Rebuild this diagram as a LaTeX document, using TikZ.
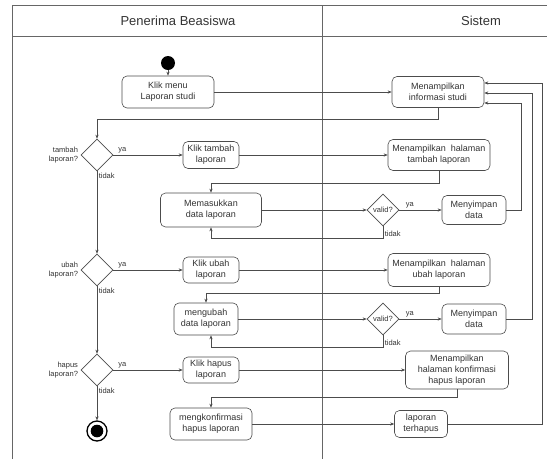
\documentclass[tikz,border=0pt]{standalone}
\usepackage{fontspec}
\setmainfont{Liberation Sans}
\usetikzlibrary{arrows.meta, positioning, calc, shapes.geometric}

\begin{document}
\begin{tikzpicture}[
    x=1pt, y=-1pt,
    font=\fontsize{9}{11}\selectfont,
    >={Stealth[length=4pt,width=3.2pt]},
    every node/.style={inner sep=2pt, text=black!80},
    act/.style={draw=black!70, line width=0.6pt, rounded corners=5pt,
                align=center, fill=white},
    cond/.style={draw=black!70, line width=0.6pt, diamond, aspect=1,
                 minimum size=32pt, inner sep=0pt,
                 font=\fontsize{7.5}{9}\selectfont},
    flow/.style={->, line width=0.5pt, draw=black!70},
    guard/.style={font=\fontsize{7.5}{9}\selectfont, inner sep=1.5pt},
    lane/.style={draw=black!60, line width=0.6pt},
    lanetitle/.style={font=\fontsize{13}{15}\selectfont}
  ]
  \useasboundingbox (0,0) rectangle (547,459);

  % ===== SWIMLANES =====
  \draw[lane] (12,459) -- (12,5) -- (547,5);
  \draw[lane] (12,36) -- (547,36);
  \draw[lane] (322,5) -- (322,459);
  \node[lanetitle] (lanePB)  at (178,21) {Penerima Beasiswa};
  \node[lanetitle] (laneSis) at (481,21) {Sistem};

  % return columns on the right
  \coordinate (ret1) at (521,0);
  \coordinate (ret2) at (532,0);
  \coordinate (ret3) at (542,0);

  % ===== START =====
  \node[circle, fill=black, minimum size=14pt, inner sep=0pt] (start) at (168,63) {};
  \node[act, minimum width=92pt, minimum height=32pt] (klikmenu) at (168,92) {Klik menu\\Laporan studi};
  \node[act, minimum width=92pt, minimum height=31pt] (info) at (438,92) {Menampilkan\\informasi studi};
  \draw[flow] (start) -- (klikmenu);
  \draw[flow] (klikmenu) -- (info);

  % ===== TAMBAH LAPORAN =====
  \node[cond] (dtambah) at (97,155) {};
  \node[guard, left=1pt of dtambah, align=right] (ltambah) {tambah\\laporan?};
  \node[act, minimum width=56pt, minimum height=27pt] (klikt) at (211,155) {Klik tambah\\laporan};
  \node[act, minimum width=102pt, minimum height=31pt] (halt) at (439,155) {Menampilkan~ halaman\\tambah laporan};
  \node[act, minimum width=101pt, minimum height=34pt] (masuk) at (211,210) {Memasukkan\\data laporan};
  \node[cond] (valid1) at (383,210) {valid?};
  \node[act, minimum width=64pt, minimum height=29pt] (simpan1) at (474,210) {Menyimpan\\data};

  \draw[flow] (info.south) -- ++(0,11) -| (dtambah.north);
  \draw[flow] (dtambah.east) -- node[guard, above, pos=0.13] {ya} (klikt.west);
  \draw[flow] (klikt) -- (halt);
  \draw[flow] (halt.south) -- ++(0,12) -| (masuk.north);
  \draw[flow] (masuk) -- (valid1);
  \draw[flow] (valid1.east) -- node[guard, above, pos=0.25] {ya} (simpan1.west);
  \draw[flow] (simpan1.east) -- (simpan1.east -| ret1) |- ([yshift=-11pt]info.east);
  \draw[flow] (valid1.south) -- node[guard, right, pos=0.6] {tidak} ++(0,12) -| (masuk.south);

  % ===== UBAH LAPORAN =====
  \node[cond] (dubah) at (97,270) {};
  \node[guard, left=1pt of dubah, align=right] (lubah) {ubah\\laporan?};
  \node[act, minimum width=56pt, minimum height=26pt] (kliku) at (211,270) {Klik ubah\\laporan};
  \node[act, minimum width=102pt, minimum height=33pt] (halu) at (439,270) {Menampilkan~ halaman\\ubah laporan};
  \node[act, minimum width=64pt, minimum height=32pt] (ubah) at (206,319) {mengubah\\data laporan};
  \node[cond] (valid2) at (383,319) {valid?};
  \node[act, minimum width=64pt, minimum height=30pt] (simpan2) at (474,319) {Menyimpan\\data};

  \draw[flow] (dtambah.south) -- node[guard, below right, pos=0] {tidak} (dubah.north);
  \draw[flow] (dubah.east) -- node[guard, above, pos=0.13] {ya} (kliku.west);
  \draw[flow] (kliku) -- (halu);
  \draw[flow] (halu.south) -- ++(0,6) -| (ubah.north);
  \draw[flow] (ubah) -- (valid2);
  \draw[flow] (valid2.east) -- node[guard, above, pos=0.25] {ya} (simpan2.west);
  \draw[flow] (simpan2.east) -- (simpan2.east -| ret2) |- ([yshift=-1pt]info.east);
  \draw[flow] (valid2.south) -- node[guard, right, pos=0.6] {tidak} ++(0,12) -| ([xshift=5pt]ubah.south);

  % ===== HAPUS LAPORAN =====
  \node[cond] (dhapus) at (97,370) {};
  \node[guard, left=1pt of dhapus, align=right] (lhapus) {hapus\\laporan?};
  \node[act, minimum width=56pt, minimum height=26pt] (klikh) at (211,370) {Klik hapus\\laporan};
  \node[act, minimum width=103pt, minimum height=38pt] (halh) at (457,370) {Menampilkan\\halaman konfirmasi\\hapus laporan};
  \node[act, minimum width=82pt, minimum height=32pt] (konf) at (211,424) {mengkonfirmasi\\hapus laporan};
  \node[act, minimum width=53pt, minimum height=27pt] (hapus) at (421,424) {laporan\\terhapus};

  \draw[flow] (dubah.south) -- node[guard, below right, pos=0] {tidak} (dhapus.north);
  \draw[flow] (dhapus.east) -- node[guard, above, pos=0.13] {ya} (klikh.west);
  \draw[flow] (klikh) -- (halh);
  \draw[flow] (halh.south) -- ++(0,8) -| (konf.north);
  \draw[flow] (konf) -- (hapus);
  \draw[flow] (hapus.east) -- (hapus.east -| ret3) |- ([yshift=9pt]info.east);

  % ===== END =====
  \node[circle, draw=black, line width=1.3pt, minimum size=20pt, inner sep=0pt] (stop) at (97,431) {};
  \fill[black] (stop.center) circle (6.3pt);
  \draw[flow] (dhapus.south) -- node[guard, below right, pos=0] {tidak} (stop.north);

\end{tikzpicture}
\end{document}
